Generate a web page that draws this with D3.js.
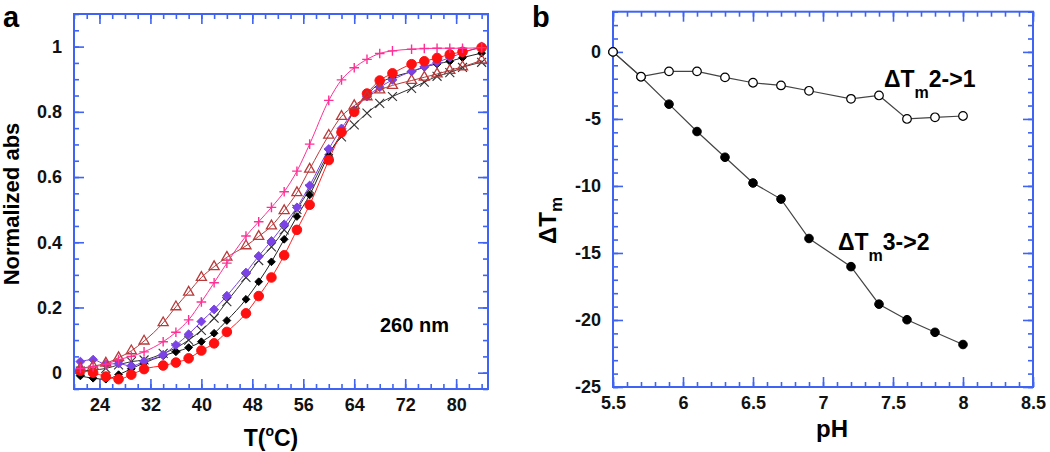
<!DOCTYPE html>
<html><head><meta charset="utf-8">
<script src="https://cdn.jsdelivr.net/npm/d3@7"></script>
<style>
html,body{margin:0;padding:0;background:#fff;}
svg{display:block;font-family:"Liberation Sans",Arial,sans-serif;}
</style></head>
<body><svg id="c" width="1050" height="452"></svg>
<script>
// ---------- Panel a data ----------
const temps = [21,23,25,27,29,31,34,36,38,40,42,44,47,49,51,53,55,57,60,62,64,66,68,70,73,75,77,79,81,84];
const redCircles = [0.006,0.0,-0.012,-0.02,-0.006,0.011,0.022,0.031,0.044,0.068,0.09,0.125,0.182,0.235,0.292,0.36,0.438,0.515,0.652,0.737,0.80,0.856,0.896,0.918,0.946,0.955,0.965,0.976,0.984,0.997];
const blackDiamonds = [-0.01,-0.017,-0.02,-0.006,0.012,0.03,0.052,0.064,0.077,0.095,0.121,0.16,0.225,0.279,0.34,0.409,0.479,0.545,0.668,0.734,0.806,0.852,0.888,0.906,0.923,0.937,0.947,0.955,0.966,0.98];
const purpleDiamonds = [0.034,0.04,0.026,0.028,0.02,0.035,0.055,0.085,0.118,0.157,0.194,0.236,0.307,0.358,0.404,0.455,0.507,0.574,0.686,0.749,0.804,0.847,0.875,0.898,0.924,0.938,0.952,0.966,0.981,1.0];
const crosses = [0.005,0.008,0.013,0.024,0.034,0.039,0.059,0.076,0.1,0.13,0.167,0.218,0.292,0.344,0.386,0.438,0.501,0.563,0.673,0.723,0.76,0.796,0.826,0.847,0.872,0.891,0.909,0.92,0.936,0.952];
const triangles = [0.013,0.02,0.029,0.046,0.067,0.097,0.153,0.202,0.247,0.292,0.325,0.354,0.389,0.418,0.45,0.497,0.552,0.624,0.728,0.786,0.819,0.846,0.867,0.881,0.896,0.906,0.916,0.927,0.938,0.958];
const magentaPlus = [0.013,0.018,0.026,0.04,0.05,0.064,0.095,0.124,0.162,0.217,0.276,0.336,0.419,0.463,0.507,0.555,0.618,0.701,0.835,0.898,0.935,0.961,0.979,0.987,0.992,0.994,0.995,0.995,0.995,0.997];
const tempTicks = [24,32,40,48,56,64,72,80];
const absTicks = [0,0.2,0.4,0.6,0.8,1];

// ---------- Panel b data ----------
const pH21 = [5.5,5.7,5.9,6.1,6.3,6.5,6.7,6.9,7.2,7.4,7.6,7.8,8.0];
const dTm21 = [0,-1.85,-1.45,-1.45,-1.9,-2.3,-2.5,-2.9,-3.5,-3.25,-5.0,-4.88,-4.78];
const pH32 = [5.5,5.7,5.9,6.1,6.3,6.5,6.7,6.9,7.2,7.4,7.6,7.8,8.0];
const dTm32 = [0,-1.85,-3.9,-5.94,-7.86,-9.78,-10.98,-13.92,-16.02,-18.82,-19.98,-20.92,-21.83];
const pHTicks = [5.5,6,6.5,7,7.5,8,8.5];
const dTmTicks = [-25,-20,-15,-10,-5,0];

const BLUE = "#3f63f2";
const svg = d3.select("#c");

function symbolOf(name){
  const m = {circle:d3.symbolCircle, diamond:d3.symbolDiamond2||d3.symbolSquare, triangle:d3.symbolTriangle,
             plus:d3.symbolPlus||d3.symbolCross, times:d3.symbolTimes||d3.symbolCross};
  return m[name];
}

function frame(g, x, y, xMajor, yMajor, xMinor, yMinor, xFmt, yFmt){
  const [x0,x1] = x.range(), [y0,y1] = y.range();
  const W = x1-x0, H = y0-y1;
  const styleAx = (sel)=>{ sel.select(".domain").remove(); sel.selectAll("line").attr("stroke",BLUE).attr("stroke-width",1.6); sel.selectAll("text").attr("fill","#111").attr("font-weight","bold").attr("font-size",18); };
  g.append("g").attr("transform",`translate(0,${y0})`).call(d3.axisBottom(x).tickValues(xMinor).tickSize(-5).tickFormat("")).call(styleAx);
  g.append("g").attr("transform",`translate(0,${y1})`).call(d3.axisTop(x).tickValues(xMinor).tickSize(-5).tickFormat("")).call(styleAx);
  g.append("g").attr("transform",`translate(${x0},0)`).call(d3.axisLeft(y).tickValues(yMinor).tickSize(-5).tickFormat("")).call(styleAx);
  g.append("g").attr("transform",`translate(${x1},0)`).call(d3.axisRight(y).tickValues(yMinor).tickSize(-5).tickFormat("")).call(styleAx);
  g.append("g").attr("transform",`translate(0,${y0})`).call(d3.axisBottom(x).tickValues(xMajor).tickSizeInner(-10).tickSizeOuter(0).tickPadding(9).tickFormat(xFmt)).call(styleAx);
  g.append("g").attr("transform",`translate(0,${y1})`).call(d3.axisTop(x).tickValues(xMajor).tickSize(-10).tickFormat("")).call(styleAx);
  g.append("g").attr("transform",`translate(${x0},0)`).call(d3.axisLeft(y).tickValues(yMajor).tickSizeInner(-10).tickSizeOuter(0).tickPadding(12).tickFormat(yFmt)).call(styleAx);
  g.append("g").attr("transform",`translate(${x1},0)`).call(d3.axisRight(y).tickValues(yMajor).tickSize(-10).tickFormat("")).call(styleAx);
  g.append("rect").attr("x",x0).attr("y",y1).attr("width",W).attr("height",H)
    .attr("fill","none").attr("stroke",BLUE).attr("stroke-width",2);
}

function series(g, x, y, xs, ys, opt){
  const pts = xs.map((d,i)=>[d,ys[i]]);
  g.append("path").datum(pts).attr("fill","none").attr("stroke",opt.line).attr("stroke-width",opt.lw||1)
    .attr("d", d3.line().x(d=>x(d[0])).y(d=>y(d[1])).curve(opt.curve||d3.curveMonotoneX));
  g.selectAll(null).data(pts).enter().append("path")
    .attr("transform",d=>`translate(${x(d[0])},${y(d[1])})`)
    .attr("d", d3.symbol().type(symbolOf(opt.shape)).size(opt.size))
    .attr("fill",opt.fill).attr("stroke",opt.stroke).attr("stroke-width",opt.sw||1);
}

// ---------- Panel a ----------
const xa = d3.scaleLinear().domain([20,85]).range([74,488]);
const ya = d3.scaleLinear().domain([-0.05,1.1]).range([389,14]);
const ga = svg.append("g");
frame(ga, xa, ya, tempTicks, absTicks, d3.range(20,85,2), d3.range(-0.05,1.1001,0.05).map(v=>+v.toFixed(2)), d3.format("d"), d=>d===0?"0":d===1?"1":d3.format(".1f")(d));
series(ga, xa, ya, temps, crosses, {shape:"times", size:54, fill:"none", stroke:"#333", sw:1.1, line:"#333"});
series(ga, xa, ya, temps, blackDiamonds, {shape:"diamond", size:38, fill:"#000", stroke:"#000", line:"#222"});
series(ga, xa, ya, temps, purpleDiamonds, {shape:"diamond", size:50, fill:"#7b42e6", stroke:"#7b42e6", line:"#7b42e6"});
series(ga, xa, ya, temps, redCircles, {shape:"circle", size:72, fill:"#ff1010", stroke:"#ff1010", line:"#ff2020"});
series(ga, xa, ya, temps, triangles, {shape:"triangle", size:44, fill:"none", stroke:"#b83a3a", sw:1.3, line:"#b83a3a"});
series(ga, xa, ya, temps, magentaPlus, {shape:"plus", size:32, fill:"none", stroke:"#ff2f95", sw:1.4, line:"#ff2f95"});

svg.append("text").attr("x",3).attr("y",26.5).attr("font-size",29).attr("font-weight","bold").text("a");
svg.append("text").attr("transform","translate(19,204) rotate(-90)").attr("text-anchor","middle")
  .attr("font-size",22).attr("font-weight","bold").text("Normalized abs");
const tl = svg.append("text").attr("x",271).attr("y",446).attr("text-anchor","middle").attr("font-size",23).attr("font-weight","bold");
tl.append("tspan").text("T(");
tl.append("tspan").attr("font-size",14).attr("dy",-10).text("o");
tl.append("tspan").attr("dy",10).text("C)");
svg.append("text").attr("x",380).attr("y",332).attr("font-size",20).attr("font-weight","bold").text("260 nm");

// ---------- Panel b ----------
const xb = d3.scaleLinear().domain([5.5,8.5]).range([613,1033]);
const yb = d3.scaleLinear().domain([-25,3]).range([387,11.7]);
const gb = svg.append("g");
frame(gb, xb, yb, pHTicks, dTmTicks, d3.range(55,86,1).map(v=>v/10), d3.range(-25,4,1), d=>String(d), d=>String(d));
series(gb, xb, yb, pH32, dTm32, {shape:"circle", size:58, fill:"#000", stroke:"#000", line:"#444", lw:1.2, curve:d3.curveLinear});
series(gb, xb, yb, pH21, dTm21, {shape:"circle", size:58, fill:"#fff", stroke:"#000", sw:1.2, line:"#444", lw:1.2, curve:d3.curveLinear});

svg.append("text").attr("x",532).attr("y",26.5).attr("font-size",29).attr("font-weight","bold").text("b");
const yl = svg.append("text").attr("transform","translate(556,244) rotate(-90)").attr("font-size",24).attr("font-weight","bold");
yl.append("tspan").text("ΔT");
yl.append("tspan").attr("font-size",17).attr("dy",6).text("m");
svg.append("text").attr("x",832).attr("y",437).attr("text-anchor","middle").attr("font-size",24).attr("font-weight","bold").text("pH");

function dLabel(x,y,rest){
  const t = svg.append("text").attr("x",x).attr("y",y).attr("font-size",23).attr("font-weight","bold");
  t.append("tspan").text("ΔT");
  t.append("tspan").attr("font-size",16).attr("dy",11).text("m");
  t.append("tspan").attr("dy",-11).text(rest);
}
dLabel(884,87,"2->1");
dLabel(838,250,"3->2");
</script></body></html>
